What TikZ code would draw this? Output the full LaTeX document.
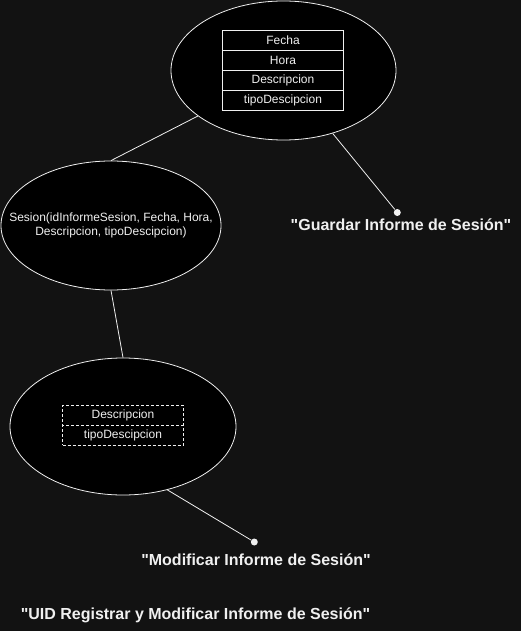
\documentclass[tikz,border=0pt]{standalone}
\usepackage{fontspec}
\setmainfont{Liberation Sans}[Ligatures=TeXOff]
\usetikzlibrary{positioning,shapes.geometric}
\definecolor{bgdark}{HTML}{121212}
\definecolor{inkwhite}{HTML}{F0F0F0}

\begin{document}
\begin{tikzpicture}[x=1pt,y=-1pt,line width=0.8pt,
    every node/.style={text=inkwhite},
    entity/.style={ellipse,draw=inkwhite,fill=black,inner sep=0pt},
    entitytext/.style={align=center,inner sep=0pt,font=\fontsize{12}{14.5}\selectfont},
    attrcell/.style={draw=inkwhite,fill=black,minimum width=120.6pt,minimum height=20pt,inner sep=0pt,outer sep=0pt,font=\fontsize{12}{14}\selectfont},
    attrdash/.style={attrcell,dash pattern=on 3pt off 2pt},
    enddot/.style={circle,fill=inkwhite,inner sep=0pt,minimum size=7pt},
    caption/.style={font=\bfseries\fontsize{16}{19}\selectfont}]
    \fill[bgdark] (0,0) rectangle (521,631); % background
    \useasboundingbox (0,0) rectangle (521,631);
    % entities
    \node[entity,minimum width=225pt,minimum height=139pt] (guardar) at (283.5,70.5) {};
    \node[entity,minimum width=220pt,minimum height=129pt] (sesion) at (111,225.5) {};
    \node[entitytext] (sesionlbl) at (sesion.center)
        {Sesion(idInformeSesion, Fecha, Hora,\\ Descripcion, tipoDescipcion)};
    \node[entity,minimum width=226pt,minimum height=137pt] (modificar) at (123,426.5) {};
    % attributes of guardar
    \node[attrcell] (fecha) at (283,40) {Fecha};
    \node[attrcell,below=0pt of fecha] (hora) {Hora};
    \node[attrcell,below=0pt of hora] (desc) {Descripcion};
    \node[attrcell,below=0pt of desc] (tipo) {tipoDescipcion};
    % attributes of modificar
    \node[attrdash] (mdesc) at (123,415.3) {Descripcion};
    \node[attrdash,below=0pt of mdesc] (mtipo) {tipoDescipcion};
    % end points and captions
    \node[enddot] (gdot) at (397.3,212.5) {};
    \node[caption] (gtext) at (401,224.5) {"Guardar Informe de Sesión"};
    \node[enddot] (mdot) at (254.3,542) {};
    \node[caption] (mtext) at (256,560) {"Modificar Informe de Sesión"};
    \node[caption] (title) at (195.5,615) {"UID Registrar y Modificar Informe de Sesión"};
    % connectors
    \draw[inkwhite] (guardar.208) -- (sesion.north);
    \draw[inkwhite] (sesion.south) -- (modificar.north);
    \draw[inkwhite] (guardar.308) -- (gdot);
    \draw[inkwhite] (modificar.305) -- (mdot);
\end{tikzpicture}
\end{document}
